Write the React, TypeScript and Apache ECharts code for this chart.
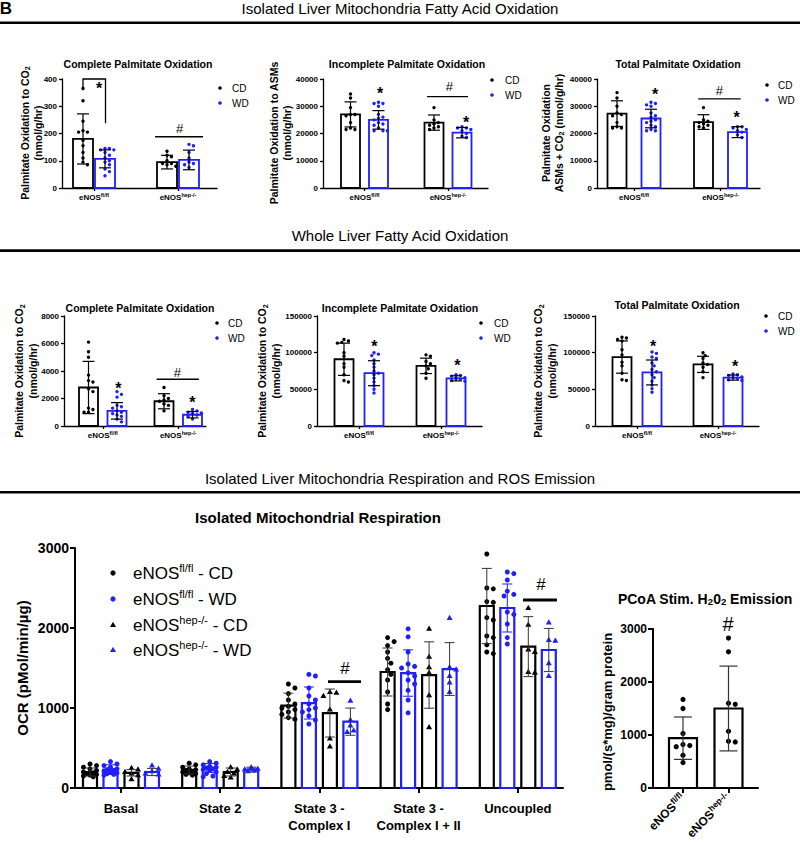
import React, { useEffect, useRef } from "react";
import * as echarts from "echarts";

const FONT = "'Liberation Sans', Arial, Helvetica, sans-serif";
const BLACK = "#000000";
const BLUE = "#1f1fff";
const ERR_DARK = "#333333";

// ---------------- Labels ----------------
const genotypeSup = ["fl/fl", "hep-/-"];
const respStates = ["Basal", "State 2", "State 3 -\nComplex I", "State 3 -\nComplex I + II", "Uncoupled"];
const dietNames = ["CD", "WD"];
const sectionTitles = [
  "Isolated Liver Mitochondria Fatty Acid Oxidation",
  "Whole Liver Fatty Acid Oxidation",
  "Isolated Liver Mitochondria Respiration and ROS Emission",
];

// ---------------- A1: isolated mito, complete oxidation (CO2) ----------------
const isoCompleteCDMean = [180, 95];
const isoCompleteCDSD = [92, 25];
const isoCompleteWDMean = [107, 103];
const isoCompleteWDSD = [33, 36];
const isoCompleteCDDots = [
  [365, 320, 245, 210, 205, 205, 175, 155, 130, 110, 95, 85],
  [135, 120, 115, 100, 90, 90, 85, 80],
];
const isoCompleteWDDots = [
  [145, 145, 140, 140, 130, 120, 110, 100, 95, 85, 70, 60, 45],
  [160, 155, 130, 110, 95, 90, 85, 75],
];

// ---------------- A2: isolated mito, incomplete oxidation (ASMs) ----------------
const isoIncompleteCDMean = [27000, 24000];
const isoIncompleteCDSD = [4600, 2800];
const isoIncompleteWDMean = [25000, 20300];
const isoIncompleteWDSD = [3400, 1900];
const isoIncompleteCDDots = [
  [34500, 33000, 29500, 27000, 27000, 26500, 24000, 22000, 21500, 21500],
  [29500, 25000, 24000, 23500, 23000, 22500, 22000, 21500],
];
const isoIncompleteWDDots = [
  [31500, 31000, 31000, 30000, 27000, 26000, 25500, 25000, 24000, 23500, 23000, 22000, 21000, 21000, 21000],
  [22500, 22000, 22000, 21500, 21000, 20000, 19000, 18500],
];

// ---------------- A3: isolated mito, total oxidation ----------------
const isoTotalCDMean = [27300, 24200];
const isoTotalCDSD = [4700, 2700];
const isoTotalWDMean = [25500, 20500];
const isoTotalWDSD = [3400, 2000];
const isoTotalCDDots = [
  [35000, 33000, 30000, 27500, 27000, 26500, 24000, 22500, 22000, 22000],
  [29500, 25000, 24500, 24000, 23500, 23000, 22500, 22000],
];
const isoTotalWDDots = [
  [31500, 31000, 30500, 30000, 27500, 26500, 26000, 25000, 24500, 24000, 23000, 22500, 21500, 21000, 21000],
  [22500, 22500, 22000, 21500, 21000, 20500, 19500, 18500],
];

// ---------------- B1: whole liver, complete oxidation ----------------
const wholeCompleteCDMean = [2800, 1800];
const wholeCompleteCDSD = [1900, 550];
const wholeCompleteWDMean = [1100, 820];
const wholeCompleteWDSD = [600, 230];
const wholeCompleteCDDots = [
  [6100, 5400, 5000, 3700, 3300, 3200, 2700, 2500, 1300, 1200, 1000, 1000],
  [2800, 2200, 2000, 1900, 1800, 1600, 1500, 1100],
];
const wholeCompleteWDDots = [
  [2500, 2300, 2100, 1500, 1400, 1300, 1100, 1000, 900, 800, 700, 500, 300],
  [1200, 1100, 1000, 950, 900, 800, 700, 500],
];

// ---------------- B2: whole liver, incomplete oxidation ----------------
const wholeIncompleteCDMean = [91000, 82000];
const wholeIncompleteCDSD = [22000, 10500];
const wholeIncompleteWDMean = [72000, 65000];
const wholeIncompleteWDSD = [17000, 3500];
const wholeIncompleteCDDots = [
  [118000, 116000, 114000, 113000, 100000, 95000, 85000, 80000, 70000, 62000, 60000],
  [97000, 95000, 88000, 85000, 82000, 78000, 72000, 65000],
];
const wholeIncompleteWDDots = [
  [100000, 98000, 96000, 90000, 85000, 80000, 75000, 72000, 70000, 65000, 60000, 55000, 50000, 45000],
  [70000, 69000, 68000, 66000, 65000, 64000, 62000, 61000],
];

// ---------------- B3: whole liver, total oxidation ----------------
const wholeTotalCDMean = [94000, 84000];
const wholeTotalCDSD = [22000, 11000];
const wholeTotalWDMean = [73000, 66000];
const wholeTotalWDSD = [17000, 3500];
const wholeTotalCDDots = [
  [121000, 120000, 118000, 116000, 104000, 97000, 87000, 82000, 72000, 63000, 62000],
  [100000, 96000, 92000, 86000, 84000, 80000, 74000, 66000],
];
const wholeTotalWDDots = [
  [101000, 99000, 94000, 92000, 86000, 82000, 77000, 74000, 70000, 66000, 61000, 56000, 51000, 46000],
  [71000, 70000, 69000, 67000, 66000, 65000, 63000, 62000],
];

// ---------------- C1: mitochondrial respiration (OCR) ----------------
const ocrFlCDMean = [200, 225, 1030, 1450, 2275];
const ocrFlCDSD = [50, 50, 155, 300, 470];
const ocrFlWDMean = [230, 250, 1062, 1437, 2250];
const ocrFlWDSD = [60, 55, 200, 290, 300];
const ocrHepCDMean = [190, 200, 937, 1412, 1767];
const ocrHepCDSD = [40, 50, 300, 415, 375];
const ocrHepWDMean = [200, 230, 829, 1487, 1725];
const ocrHepWDSD = [45, 30, 170, 330, 270];
const ocrFlCDDots = [
  [300, 280, 260, 240, 220, 200, 190, 180, 170, 160, 150, 140],
  [310, 290, 260, 240, 230, 220, 210, 200, 190, 180, 170, 160],
  [1300, 1250, 1180, 1100, 1050, 1020, 1000, 980, 950, 920, 880, 860],
  [1880, 1830, 1780, 1700, 1620, 1560, 1480, 1420, 1350, 1200, 1050, 980],
  [2925, 2500, 2490, 2330, 2320, 2130, 2100, 1900, 1880, 1790, 1700, 1680],
];
const ocrFlWDDots = [
  [330, 300, 280, 260, 240, 230, 220, 210, 200, 190, 180, 170, 160],
  [330, 310, 290, 270, 260, 250, 240, 230, 220, 200, 180, 150, 140],
  [1420, 1400, 1250, 1150, 1100, 1050, 1000, 980, 950, 900, 850, 800],
  [1990, 1890, 1700, 1550, 1520, 1500, 1440, 1400, 1350, 1300, 1220, 1100, 940],
  [2700, 2680, 2600, 2460, 2420, 2400, 2200, 2170, 2050, 1880, 1800],
];
const ocrHepCDDots = [
  [250, 230, 200, 180, 160, 110],
  [260, 230, 200, 180, 150, 130],
  [1200, 1190, 1150, 980, 620, 520],
  [1990, 1640, 1510, 1440, 1160, 760],
  [2250, 2040, 1730, 1700, 1450, 1440],
];
const ocrHepWDDots = [
  [280, 240, 210, 180, 170],
  [260, 240, 230, 220, 210],
  [1090, 850, 780, 720, 700],
  [2125, 1510, 1480, 1400, 1320, 1200],
  [2070, 1850, 1840, 1560, 1400],
];

// ---------------- C2: PCoA stimulated H2O2 emission ----------------
const h2o2Mean = [940, 1500];
const h2o2SD = [400, 800];
const h2o2Dots = [
  [1670, 1500, 1030, 820, 800, 780, 620, 480],
  [2830, 2570, 1600, 1580, 1070, 880, 870],
];

// ---------------- Helpers ----------------
function beeswarm(ys: number[], r: number, maxOff: number): number[] {
  const d = r * 2 * 1.05;
  const step = d * 0.62;
  const cands: number[] = [0];
  for (let k = 1; k < 12; k++) {
    const c = k * step;
    if (c > maxOff) break;
    cands.push(c, -c);
  }
  const placed: { x: number; y: number }[] = [];
  const out: number[] = [];
  for (const y of ys) {
    let best = 0;
    let bestScore = -1;
    for (const c of cands) {
      let minD = Infinity;
      for (const p of placed) {
        const dx = p.x - c;
        const dy = p.y - y;
        minD = Math.min(minD, Math.sqrt(dx * dx + dy * dy));
      }
      if (minD >= d) {
        best = c;
        bestScore = Infinity;
        break;
      }
      if (minD > bestScore) {
        bestScore = minD;
        best = c;
      }
    }
    placed.push({ x: best, y });
    out.push(best);
  }
  return out;
}

function makeBarRender(p: any, sub: any) {
  return (params: any, api: any) => {
    const g = api.value(0);
    const mean = api.value(1);
    const sd = api.value(2);
    const base = api.coord([g, 0]);
    const top = api.coord([g, mean]);
    const cx = base[0] + sub.offset;
    const bw = p.barW;
    const children: any[] = [];
    children.push({
      type: "rect",
      shape: { x: cx - bw / 2, y: top[1], width: bw, height: base[1] - top[1] },
      style: { fill: "#ffffff", stroke: sub.color, lineWidth: p.barLine },
    });
    const vals: number[] = (sub.dots[g] || []).slice().sort((a: number, b: number) => b - a);
    const ys = vals.map((v) => api.coord([g, v])[1]);
    const offs = beeswarm(ys, p.dotR, bw / 2 + 1);
    ys.forEach((y, k) => {
      const x = cx + offs[k];
      const r = p.dotR;
      if (sub.symbol === "triangle") {
        children.push({
          type: "polygon",
          shape: { points: [[x, y - r * 1.3], [x - r * 1.2, y + r * 0.8], [x + r * 1.2, y + r * 0.8]] },
          style: { fill: sub.color },
        });
      } else {
        children.push({ type: "circle", shape: { cx: x, cy: y, r }, style: { fill: sub.color } });
      }
    });
    const hi = api.coord([g, mean + sd])[1];
    const lo = api.coord([g, Math.max(0, mean - sd)])[1];
    const es = { stroke: sub.errColor, lineWidth: p.errW };
    children.push({ type: "line", shape: { x1: cx, y1: hi, x2: cx, y2: lo }, style: es });
    children.push({ type: "line", shape: { x1: cx - p.capW / 2, y1: hi, x2: cx + p.capW / 2, y2: hi }, style: es });
    children.push({ type: "line", shape: { x1: cx - p.capW / 2, y1: lo, x2: cx + p.capW / 2, y2: lo }, style: es });
    return { type: "group", children };
  };
}

function makeAnnRender(p: any) {
  return (params: any, api: any) => {
    const children = p.anns.map((a: any) => {
      if (a.kind === "line") {
        const pts = a.pts.map((pt: number[]) => api.coord(pt));
        return { type: "polyline", shape: { points: pts }, style: { stroke: BLACK, lineWidth: a.w || 1.3, fill: null } };
      }
      const c = api.coord([a.x, a.y]);
      const dy = a.text === "*" ? a.size * 0.17 : 0;
      return {
        type: "text",
        x: c[0],
        y: c[1] + dy,
        style: {
          text: a.text,
          fontSize: a.size,
          fontWeight: a.bold ? "bold" : "normal",
          fontFamily: FONT,
          fill: BLACK,
          align: "center",
          verticalAlign: "middle",
          textAlign: "center",
          textVerticalAlign: "middle",
        },
      };
    });
    return { type: "group", children };
  };
}

const smallXLabel = {
  color: BLACK,
  margin: 4,
  formatter: (v: number) => `{b|eNOS}{s|${genotypeSup[Math.round(v)]}}`,
  rich: {
    b: { fontSize: 8, fontWeight: "bold", fontFamily: FONT, color: BLACK, lineHeight: 11 },
    s: { fontSize: 5.5, fontWeight: "bold", fontFamily: FONT, color: BLACK, lineHeight: 6, verticalAlign: "top" },
  },
};

function abPanel(cfg: any) {
  return {
    axisW: 1.3,
    tickLen: 3,
    yFont: 8,
    yMargin: 5,
    xLabel: smallXLabel,
    barW: 19,
    barLine: 1.8,
    errW: 1.2,
    capW: 12,
    dotR: 1.7,
    nGroups: 2,
    ...cfg,
  };
}

function twoSubs(off: number, cdM: number[], cdS: number[], cdD: number[][], wdM: number[], wdS: number[], wdD: number[][]) {
  return [
    { color: BLACK, errColor: BLACK, offset: -off, means: cdM, sds: cdS, dots: cdD, symbol: "circle" },
    { color: BLUE, errColor: BLACK, offset: off, means: wdM, sds: wdS, dots: wdD, symbol: "circle" },
  ];
}

const panels: any[] = [
  abPanel({
    axisLeft: 62, axisRight: 217, axisTop: 79, axisBottom: 188, g0: 94, unit: 84, yMax: 400, yInterval: 100, barW: 20,
    subs: twoSubs(11, isoCompleteCDMean, isoCompleteCDSD, isoCompleteCDDots, isoCompleteWDMean, isoCompleteWDSD, isoCompleteWDDots),
    anns: [
      { kind: "line", pts: [[-0.131, 371], [-0.131, 400], [0.137, 400], [0.137, 238]] },
      { kind: "text", x: 0.06, y: 374, text: "*", size: 16, bold: true },
      { kind: "line", pts: [[0.726, 188], [1.298, 188]] },
      { kind: "text", x: 1.02, y: 218, text: "#", size: 13 },
    ],
  }),
  abPanel({
    axisLeft: 323, axisRight: 488, axisTop: 79, axisBottom: 188, g0: 364.5, unit: 83.5, yMax: 40000, yInterval: 10000,
    subs: twoSubs(14, isoIncompleteCDMean, isoIncompleteCDSD, isoIncompleteCDDots, isoIncompleteWDMean, isoIncompleteWDSD, isoIncompleteWDDots),
    anns: [
      { kind: "text", x: 0.186, y: 35700, text: "*", size: 16, bold: true },
      { kind: "line", pts: [[0.749, 33500], [1.24, 33500]] },
      { kind: "text", x: 1.016, y: 37200, text: "#", size: 13 },
      { kind: "text", x: 1.216, y: 25200, text: "*", size: 16, bold: true },
    ],
  }),
  abPanel({
    axisLeft: 597, axisRight: 760, axisTop: 79, axisBottom: 188, g0: 634, unit: 86.5, yMax: 40000, yInterval: 10000,
    subs: twoSubs(17, isoTotalCDMean, isoTotalCDSD, isoTotalCDDots, isoTotalWDMean, isoTotalWDSD, isoTotalWDDots),
    anns: [
      { kind: "text", x: 0.243, y: 35300, text: "*", size: 16, bold: true },
      { kind: "line", pts: [[0.743, 32700], [1.233, 32700]] },
      { kind: "text", x: 0.986, y: 35700, text: "#", size: 13 },
      { kind: "text", x: 1.187, y: 26800, text: "*", size: 16, bold: true },
    ],
  }),
  abPanel({
    axisLeft: 64, axisRight: 206, axisTop: 316, axisBottom: 426, g0: 102.75, unit: 75.5, yMax: 8000, yInterval: 2000,
    subs: twoSubs(14.25, wholeCompleteCDMean, wholeCompleteCDSD, wholeCompleteCDDots, wholeCompleteWDMean, wholeCompleteWDSD, wholeCompleteWDDots),
    anns: [
      { kind: "text", x: 0.208, y: 2910, text: "*", size: 16, bold: true },
      { kind: "line", pts: [[0.713, 3400], [1.274, 3400]] },
      { kind: "text", x: 0.989, y: 3880, text: "#", size: 13 },
      { kind: "text", x: 1.187, y: 1940, text: "*", size: 16, bold: true },
    ],
  }),
  abPanel({
    axisLeft: 317, axisRight: 482, axisTop: 316, axisBottom: 426, g0: 359, unit: 82, yMax: 150000, yInterval: 50000,
    subs: twoSubs(15, wholeIncompleteCDMean, wholeIncompleteCDSD, wholeIncompleteCDDots, wholeIncompleteWDMean, wholeIncompleteWDSD, wholeIncompleteWDDots),
    anns: [
      { kind: "text", x: 0.187, y: 111800, text: "*", size: 16, bold: true },
      { kind: "text", x: 1.199, y: 86300, text: "*", size: 16, bold: true },
    ],
  }),
  abPanel({
    axisLeft: 595, axisRight: 759, axisTop: 316, axisBottom: 426, g0: 637, unit: 81, yMax: 150000, yInterval: 50000,
    subs: twoSubs(15, wholeTotalCDMean, wholeTotalCDSD, wholeTotalCDDots, wholeTotalWDMean, wholeTotalWDSD, wholeTotalWDDots),
    anns: [
      { kind: "text", x: 0.2, y: 112700, text: "*", size: 16, bold: true },
      { kind: "text", x: 1.21, y: 85500, text: "*", size: 16, bold: true },
    ],
  }),
  {
    axisLeft: 75, axisRight: 563, axisTop: 548, axisBottom: 788, g0: 121, unit: 99.2, nGroups: 5,
    yMax: 3000, yInterval: 1000, axisW: 2, tickLen: 5, yFont: 14, yMargin: 6,
    xLabel: {
      color: BLACK, margin: 12, fontSize: 13, fontWeight: "bold", fontFamily: FONT, lineHeight: 17,
      formatter: (v: number) => respStates[Math.round(v)],
    },
    barW: 14, barLine: 2.2, errW: 1, capW: 10, dotR: 2.5,
    subs: [
      { color: BLACK, errColor: ERR_DARK, offset: -31, means: ocrFlCDMean, sds: ocrFlCDSD, dots: ocrFlCDDots, symbol: "circle" },
      { color: BLUE, errColor: BLUE, offset: -10.5, means: ocrFlWDMean, sds: ocrFlWDSD, dots: ocrFlWDDots, symbol: "circle" },
      { color: BLACK, errColor: ERR_DARK, offset: 10.5, means: ocrHepCDMean, sds: ocrHepCDSD, dots: ocrHepCDDots, symbol: "triangle" },
      { color: BLUE, errColor: ERR_DARK, offset: 31, means: ocrHepWDMean, sds: ocrHepWDSD, dots: ocrHepWDDots, symbol: "triangle" },
    ],
    anns: [
      { kind: "line", pts: [[2.087, 1330], [2.419, 1330]], w: 2.8 },
      { kind: "text", x: 2.258, y: 1500, text: "#", size: 17 },
      { kind: "line", pts: [[4.052, 2350], [4.395, 2350]], w: 2.8 },
      { kind: "text", x: 4.234, y: 2550, text: "#", size: 17 },
    ],
  },
  {
    axisLeft: 653, axisRight: 758, axisTop: 629, axisBottom: 788, g0: 683, unit: 45.5, nGroups: 2,
    yMax: 3000, yInterval: 1000, axisW: 2, tickLen: 5, yFont: 12, yMargin: 6,
    xLabel: {
      color: BLACK, margin: 8, rotate: 45,
      formatter: (v: number) => `{b|eNOS}{s|${genotypeSup[Math.round(v)]}}`,
      rich: {
        b: { fontSize: 12, fontWeight: "bold", fontFamily: FONT, color: BLACK, lineHeight: 16 },
        s: { fontSize: 8.5, fontWeight: "bold", fontFamily: FONT, color: BLACK, lineHeight: 9, verticalAlign: "top" },
      },
    },
    barW: 28, barLine: 2.2, errW: 1.2, capW: 18, dotR: 2.6,
    subs: [
      { color: BLACK, errColor: ERR_DARK, offset: 0, means: h2o2Mean, sds: h2o2SD, dots: h2o2Dots, symbol: "circle" },
    ],
    anns: [{ kind: "text", x: 0.989, y: 3094, text: "#", size: 20 }],
  },
];

// ---------------- Graphic (titles, labels, legends) ----------------
function txt(x: number, y: number, text: string, size: number, opts: any = {}) {
  return {
    type: "text",
    x,
    y,
    rotation: opts.rotation || 0,
    style: {
      text,
      fontSize: size,
      fontWeight: opts.bold ? "bold" : "normal",
      fontFamily: FONT,
      fill: BLACK,
      align: opts.align || "center",
      verticalAlign: "middle",
      textAlign: opts.align || "center",
      textVerticalAlign: "middle",
      lineHeight: opts.lineHeight,
      rich: opts.rich,
    },
  };
}

const subRich = (size: number) => ({
  sub: { fontSize: size * 0.68, fontWeight: "bold", fontFamily: FONT, verticalAlign: "bottom", lineHeight: size * 0.75 },
});

function yLabel(x: number, y: number, text: string, size: number, lh: number) {
  return txt(x, y, text, size, { bold: true, rotation: Math.PI / 2, lineHeight: lh, rich: subRich(size) });
}

function smallLegend(dx: number, tx: number, y1: number, y2: number) {
  return [
    { type: "circle", shape: { cx: dx, cy: y1, r: 1.8 }, style: { fill: BLACK } },
    { type: "circle", shape: { cx: dx, cy: y2, r: 1.8 }, style: { fill: BLUE } },
    txt(tx, y1, dietNames[0], 10, { align: "left" }),
    txt(tx, y2, dietNames[1], 10, { align: "left" }),
  ];
}

const legendRich = {
  m: { fontSize: 17, fontFamily: FONT, color: BLACK, lineHeight: 22 },
  s: { fontSize: 11, fontFamily: FONT, color: BLACK, lineHeight: 11, verticalAlign: "top" },
};

function bigLegendItem(y: number, sup: string, diet: string, color: string, tri: boolean) {
  const sym = tri
    ? { type: "polygon", shape: { points: [[113, y - 3.2], [110, y + 2], [116, y + 2]] }, style: { fill: color } }
    : { type: "circle", shape: { cx: 113, cy: y, r: 2.6 }, style: { fill: color } };
  return [sym, txt(133, y, `{m|eNOS}{s|${sup}}{m| - ${diet}}`, 17, { align: "left", rich: legendRich })];
}

const graphics: any[] = [
  txt(6, 8, "B", 17, { bold: true }),
  txt(400, 8, sectionTitles[0], 15),
  { type: "rect", shape: { x: 0, y: 21.5, width: 800, height: 2.6 }, style: { fill: BLACK } },
  txt(400, 235, sectionTitles[1], 15),
  { type: "rect", shape: { x: 0, y: 249.3, width: 800, height: 2.6 }, style: { fill: BLACK } },
  txt(400, 478, sectionTitles[2], 15),
  { type: "rect", shape: { x: 0, y: 491, width: 800, height: 2.6 }, style: { fill: BLACK } },

  txt(138, 64, "Complete Palmitate Oxidation", 10.5, { bold: true }),
  txt(407, 64, "Incomplete Palmitate Oxidation", 10.5, { bold: true }),
  txt(678, 64, "Total Palmitate Oxidation", 10.5, { bold: true }),
  txt(140, 308, "Complete Palmitate Oxidation", 10.5, { bold: true }),
  txt(400, 308, "Incomplete Palmitate Oxidation", 10.5, { bold: true }),
  txt(677, 305, "Total Palmitate Oxidation", 10.5, { bold: true }),

  yLabel(31, 133, "Palmitate Oxidation to CO{sub|2}\n(nmol/g/hr)", 10.5, 13),
  yLabel(280, 133, "Palmitate Oxidation to ASMs\n(nmol/g/hr)", 10.5, 13),
  yLabel(552, 133, "Palmitate Oxidation\nASMs + CO{sub|2} (nmol/g/hr)", 10.5, 13),
  yLabel(26, 371, "Palmitate Oxidation to CO{sub|2}\n(nmol/g/hr)", 10.5, 14),
  yLabel(269, 371, "Palmitate Oxidation to CO{sub|2}\n(nmol/g/hr)", 10.5, 14),
  yLabel(545, 371, "Palmitate Oxidation to CO{sub|2}\n(nmol/g/hr)", 10.5, 14),

  ...smallLegend(220, 232, 88, 103),
  ...smallLegend(492, 505, 80, 95),
  ...smallLegend(767, 778, 85, 100),
  ...smallLegend(217, 228, 323, 338),
  ...smallLegend(481, 494, 323, 338),
  ...smallLegend(766, 778, 316, 331),

  txt(318, 517, "Isolated Mitochondrial Respiration", 15, { bold: true }),
  txt(22, 668, "OCR (pMol/min/\u00b5g)", 15, { bold: true, rotation: Math.PI / 2 }),
  ...bigLegendItem(573, genotypeSup[0], dietNames[0], BLACK, false),
  ...bigLegendItem(599, genotypeSup[0], dietNames[1], BLUE, false),
  ...bigLegendItem(625, genotypeSup[1], dietNames[0], BLACK, true),
  ...bigLegendItem(650, genotypeSup[1], dietNames[1], BLUE, true),

  txt(705, 599, "PCoA Stim. H{sub|2}0{sub|2} Emission", 14, { bold: true, rich: subRich(14) }),
  txt(607, 712, "pmol/(s*mg)/gram protein", 13, { bold: true, rotation: Math.PI / 2 }),
];

function buildOption() {
  const grid: any[] = [];
  const xAxis: any[] = [];
  const yAxis: any[] = [];
  const series: any[] = [];
  panels.forEach((p, i) => {
    const idxs = Array.from({ length: p.nGroups }, (_, k) => k);
    grid.push({ left: p.axisLeft, top: p.axisTop, width: p.axisRight - p.axisLeft, height: p.axisBottom - p.axisTop });
    xAxis.push({
      gridIndex: i,
      type: "value",
      min: (p.axisLeft - p.g0) / p.unit,
      max: (p.axisRight - p.g0) / p.unit,
      axisLine: { show: true, onZero: false, lineStyle: { color: BLACK, width: p.axisW } },
      axisTick: { show: true, customValues: idxs, length: p.tickLen, lineStyle: { color: BLACK, width: p.axisW } },
      axisLabel: { customValues: idxs, ...p.xLabel },
      splitLine: { show: false },
    });
    yAxis.push({
      gridIndex: i,
      type: "value",
      min: 0,
      max: p.yMax,
      interval: p.yInterval,
      axisLine: { show: true, onZero: false, lineStyle: { color: BLACK, width: p.axisW } },
      axisTick: { show: true, length: p.tickLen, lineStyle: { color: BLACK, width: p.axisW } },
      axisLabel: {
        color: BLACK,
        fontFamily: FONT,
        fontWeight: "bold",
        fontSize: p.yFont,
        margin: p.yMargin,
        formatter: (v: number) => String(v),
      },
      splitLine: { show: false },
    });
    p.subs.forEach((sub: any) => {
      series.push({
        type: "custom",
        xAxisIndex: i,
        yAxisIndex: i,
        silent: true,
        clip: false,
        data: sub.means.map((m: number, g: number) => [g, m, sub.sds[g]]),
        renderItem: makeBarRender(p, sub),
      });
    });
    series.push({
      type: "custom",
      xAxisIndex: i,
      yAxisIndex: i,
      silent: true,
      clip: false,
      z: 5,
      data: [[0, 0]],
      renderItem: makeAnnRender(p),
    });
  });
  return {
    animation: false,
    backgroundColor: "#ffffff",
    textStyle: { fontFamily: FONT },
    grid,
    xAxis,
    yAxis,
    series,
    graphic: { elements: graphics },
  };
}

export default function App() {
  const ref = useRef<HTMLDivElement>(null);
  useEffect(() => {
    if (!ref.current) return;
    const chart = echarts.init(ref.current, undefined, { renderer: "svg" });
    chart.setOption(buildOption() as any);
    return () => chart.dispose();
  }, []);
  return (
    <div
      ref={ref}
      style={{ position: "absolute", left: 0, top: 0, width: 800, height: 844, background: "#ffffff" }}
    />
  );
}
